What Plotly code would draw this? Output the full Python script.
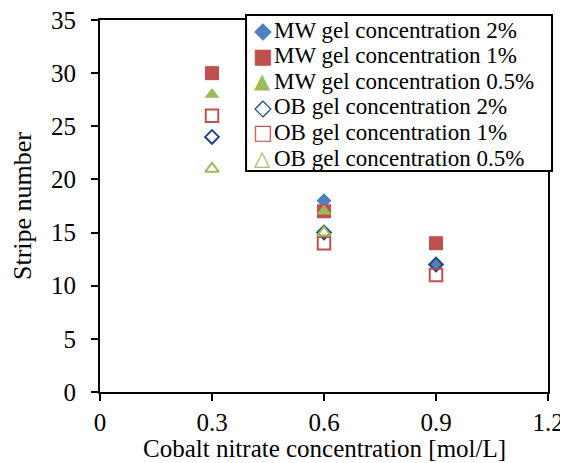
import plotly.graph_objects as go

x_vals = [0.3, 0.6, 0.9]
mw_2 = [30, 18, 12]
mw_1 = [30, 17, 14]
mw_05 = [28, 17, None]
ob_2 = [24, 15, 12]
ob_1 = [26, 14, 11]
ob_05 = [21, 15, None]

names = ["MW gel concentration 2%", "MW gel concentration 1%", "MW gel concentration 0.5%",
         "OB gel concentration 2%", "OB gel concentration 1%", "OB gel concentration 0.5%"]
series = [mw_2, mw_1, mw_05, ob_2, ob_1, ob_05]
symbols = ["diamond", "square", "triangle-up", "diamond-open", "square-open", "triangle-up-open"]
glyphs = ["◆", "■", "▲", "◇", "□", "△"]
colors = ["#4F81BD", "#C0504D", "#9BBB59", "#1F497D", "#C0504D", "#9BBB59"]
sizes = [11.5, 14, 13, 10.5, 12.5, 12]
glyph_sizes = [23, 21, 21, 23, 21, 21]

x_title = "Cobalt nitrate concentration [mol/L]"
y_title = "Stripe number"

font = "Liberation Serif, Times New Roman, serif"

fig = go.Figure()
for n, s, sym, c, sz in zip(names, series, symbols, colors, sizes):
    fig.add_trace(go.Scatter(
        x=x_vals, y=s, mode="markers", name=n, showlegend=False,
        marker=dict(symbol=sym, color=c, size=sz,
                    line=dict(color=c, width=2 if "open" in sym else 0)),
    ))

# legend box drawn as layout elements
leg_x0, leg_x1, leg_y0, leg_y1 = 0.326, 1.009, 0.594, 1.0134
fig.add_shape(type="rect", xref="paper", yref="paper", x0=leg_x0, x1=leg_x1, y0=leg_y0, y1=leg_y1,
              line=dict(color="black", width=2), fillcolor="white", layer="above")
row_top = 0.973
row_step = 0.0688
for i, (n, g, c, gs) in enumerate(zip(names, glyphs, colors, glyph_sizes)):
    ry = row_top - i * row_step
    fig.add_annotation(
        xref="paper", yref="paper", x=0.3638, y=ry,
        xanchor="center", yanchor="middle", showarrow=False,
        text=g, font=dict(family="DejaVu Sans", size=gs, color=c),
    )
    fig.add_annotation(
        xref="paper", yref="paper", x=0.3840, y=ry,
        xanchor="left", yanchor="middle", showarrow=False,
        text=n, font=dict(family=font, size=23, color="black"),
    )

# axis titles
fig.add_annotation(xref="paper", yref="paper", x=0.5, y=0, yshift=-56,
                   xanchor="center", yanchor="middle", showarrow=False,
                   text=x_title, font=dict(family=font, size=25, color="black"))
fig.add_annotation(xref="paper", yref="paper", x=0, y=0.5, xshift=-78,
                   xanchor="center", yanchor="middle", showarrow=False, textangle=-90,
                   text=y_title, font=dict(family=font, size=26, color="black"))

# page body has an 8px margin, so the figure is sized/offset to compensate
fig.update_layout(
    width=560, height=455,
    margin=dict(l=92, r=20, t=12, b=71),
    paper_bgcolor="white", plot_bgcolor="white",
    font=dict(family=font, size=25, color="black"),
    showlegend=False,
    xaxis=dict(range=[0, 1.2], tickvals=[0, 0.3, 0.6, 0.9, 1.2],
               ticktext=["0", "0.3", "0.6", "0.9", "1.2"],
               showgrid=False, zeroline=False, showline=True, linecolor="black",
               linewidth=2, mirror=True, ticks="outside", ticklen=7, tickwidth=1.5,
               tickcolor="black", automargin=False, tickfont=dict(size=25),
               ticklabeloverflow="allow"),
    yaxis=dict(range=[0, 35], tickvals=[0, 5, 10, 15, 20, 25, 30, 35],
               showgrid=False, zeroline=False, showline=True, linecolor="black",
               linewidth=2, mirror=True, ticks="outside", ticklen=7, tickwidth=1.5,
               tickcolor="black", automargin=False, tickfont=dict(size=25),
               ticklabelstandoff=10, ticklabeloverflow="allow"),
)

fig.write_html("out.html")
